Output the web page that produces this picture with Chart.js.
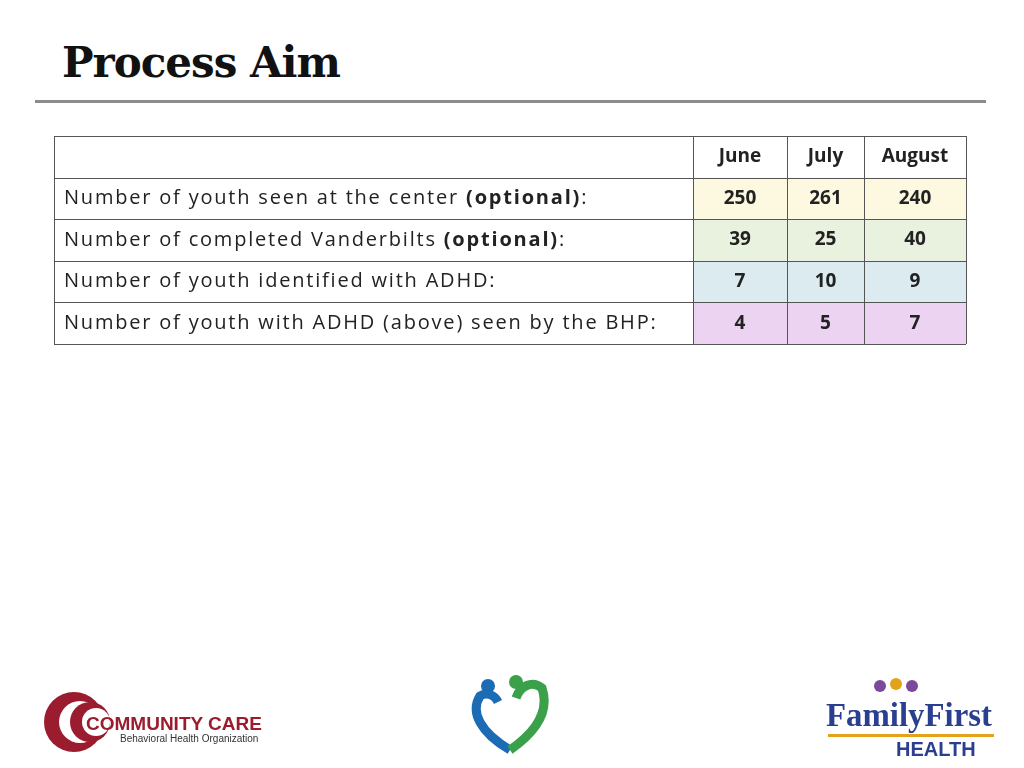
<!DOCTYPE html>
<html>
<head>
<meta charset="utf-8">
<script src="https://cdn.jsdelivr.net/npm/chart.js@4"></script>
<style>
  body { margin: 0; width: 1024px; height: 768px; background: #fff; position: relative; overflow: hidden; font-family: 'Open Sans', sans-serif; }
  h1 { position: absolute; left: 62px; top: 38px; margin: 0; font: bold 42px 'DejaVu Serif', serif; color: #111; letter-spacing: -1px; }
  .rule { position: absolute; left: 35px; top: 100px; width: 951px; height: 3px; background: #8c8c8c; }
  #wrap { position: absolute; left: 0; top: 0; width: 1024px; height: 768px; }
  .cc { position: absolute; left: 42px; top: 690px; }
  .ff { position: absolute; left: 826px; top: 676px; }
</style>
</head>
<body>
<h1>Process Aim</h1>
<div class="rule"></div>
<div id="wrap"><canvas id="tabela"></canvas></div>

<svg class="cc" width="240" height="64">
  <circle cx="32" cy="32" r="30" fill="#9b1c2e"/>
  <circle cx="38" cy="32" r="21" fill="#fff"/>
  <circle cx="48" cy="32" r="20" fill="#9b1c2e"/>
  <circle cx="54" cy="32" r="14" fill="#fff"/>
  <text x="44" y="40" font-family="Liberation Sans" font-weight="bold" font-size="19" fill="#9b1c2e">COMMUNITY CARE</text>
  <text x="78" y="52" font-family="Liberation Sans" font-size="10" fill="#333">Behavioral Health Organization</text>
</svg>
<svg style="position:absolute;left:470px;top:672px" width="84" height="84">
  <circle cx="18" cy="14" r="7" fill="#1c6bb5"/>
  <circle cx="46" cy="10" r="7" fill="#3aa04a"/>
  <path d="M40 78 C10 60 0 40 10 24 C16 20 24 22 28 30" stroke="#1c6bb5" stroke-width="9" fill="none"/>
  <path d="M40 78 C66 60 80 40 72 16 C62 8 50 14 46 26" stroke="#3aa04a" stroke-width="9" fill="none"/>
</svg>
<svg class="ff" width="180" height="84">
  <circle cx="54" cy="10" r="6" fill="#7b4a9c"/>
  <circle cx="70" cy="8" r="6" fill="#e3a21a"/>
  <circle cx="86" cy="10" r="6" fill="#7b4a9c"/>
  <text x="0" y="50" font-family="Liberation Serif" font-weight="bold" font-size="33" fill="#2a3f8f" textLength="166" lengthAdjust="spacingAndGlyphs">FamilyFirst</text>
  <rect x="2" y="58" width="166" height="3" fill="#e3a21a"/>
  <text x="70" y="80" font-family="Liberation Sans" font-weight="bold" font-size="20" fill="#2a3f8f">HEALTH</text>
</svg>

<script>
// dados da tabela
const meses = ['June', 'July', 'August'];
const linhas = [
  ['Number of youth seen at the center ', '(optional)', ':'],
  ['Number of completed Vanderbilts ', '(optional)', ':'],
  ['Number of youth identified with ADHD:', '', ''],
  ['Number of youth with ADHD (above) seen by the BHP:', '', '']
];
const junho = [250, 39, 7, 4];
const julho = [261, 25, 10, 5];
const agosto = [240, 40, 9, 7];

const coresLinha = ['#fdf9e1', '#e9f1df', '#dbebf0', '#ecd3f1'];
const larguras = [639, 94, 77, 102]; // colunas em unidades do eixo x

const valores = [junho, julho, agosto];
const rotulosY = ['head', 'r0', 'r1', 'r2', 'r3'];
const bordas = [0];
larguras.forEach(w => bordas.push(bordas[bordas.length - 1] + w));

const desenhaTabela = {
  id: 'tabela',
  afterDraw(chart) {
    const c = chart.ctx;
    const x = chart.scales.x, y = chart.scales.y;
    const h = chart.chartArea.height / rotulosY.length;
    const px = v => x.getPixelForValue(v);
    c.save();
    rotulosY.forEach((r, i) => {
      const cy = y.getPixelForValue(i);
      const top = cy - h / 2;
      c.fillStyle = '#222';
      c.textBaseline = 'middle';
      if (i > 0) {
        c.fillStyle = coresLinha[i - 1];
        c.fillRect(px(bordas[1]), top, px(bordas[4]) - px(bordas[1]), h);
        const l = linhas[i - 1];
        c.fillStyle = '#222';
        c.textAlign = 'left';
        c.letterSpacing = '1.8px';
        let tx = px(0) + 10;
        c.font = '20px "Open Sans"';
        c.fillText(l[0], tx, cy); tx += c.measureText(l[0]).width;
        c.font = 'bold 20px "Open Sans"';
        c.fillText(l[1], tx, cy); tx += c.measureText(l[1]).width;
        c.font = '20px "Open Sans"';
        c.fillText(l[2], tx, cy);
        c.letterSpacing = '0px';
        c.textAlign = 'center';
        c.font = 'bold 19px "Open Sans"';
        valores.forEach((s, j) => c.fillText(String(s[i - 1]), (px(bordas[j + 1]) + px(bordas[j + 2])) / 2, cy));
      } else {
        c.textAlign = 'center';
        c.font = 'bold 19px "Open Sans"';
        meses.forEach((m, j) => c.fillText(m, (px(bordas[j + 1]) + px(bordas[j + 2])) / 2, cy));
      }
    });
    c.strokeStyle = '#555';
    c.lineWidth = 1;
    const a = chart.chartArea;
    for (let i = 0; i <= rotulosY.length; i++) {
      const yy = Math.round(a.top + i * h) + 0.5;
      c.beginPath(); c.moveTo(a.left, yy); c.lineTo(a.right, yy); c.stroke();
    }
    bordas.forEach(b => {
      const xx = Math.round(px(b)) + 0.5;
      c.beginPath(); c.moveTo(xx, a.top); c.lineTo(xx, a.bottom); c.stroke();
    });
    c.restore();
  }
};

new Chart(document.getElementById('tabela'), {
  type: 'bar',
  data: { labels: rotulosY, datasets: [{ data: [], indexAxis: 'y' }] },
  options: {
    responsive: true,
    maintainAspectRatio: false,
    animation: false,
    indexAxis: 'y',
    layout: { padding: { left: 54, right: 58, top: 136, bottom: 424 } },
    plugins: { legend: { display: false }, tooltip: { enabled: false } },
    scales: {
      x: { type: 'linear', min: 0, max: bordas[4], display: false },
      y: { type: 'category', display: false, offset: true }
    }
  },
  plugins: [desenhaTabela]
});
</script>
</body>
</html>
